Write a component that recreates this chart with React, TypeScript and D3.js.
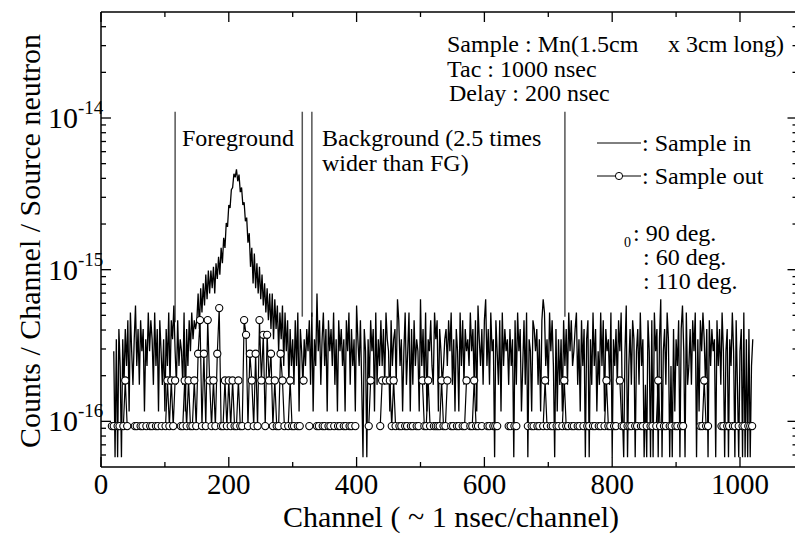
import React from "react";
import * as d3 from "d3";

// ---- axis / scale settings ----
const X_DOMAIN: [number, number] = [0, 1090];
const Y_DOMAIN: [number, number] = [5e-17, 5e-14];
const X_MAJOR = [0, 200, 400, 600, 800, 1000];
const X_MINOR = [100, 300, 500, 700, 900];
const Y_DECADES = [-16, -15, -14];

// one count in each spectrum (per source neutron)
const SAMPLE_IN_UNIT = 0.58e-16;
const SAMPLE_OUT_UNIT = 0.93e-16;
const SAMPLE_IN_STEP = 2; // channels between plotted points
const SAMPLE_OUT_STEP = 3;

// ---- Sample in : counts (base-36 digits), 10 points per chunk ----
const sampleInLowStart = 20;
const sampleInLow = ["5161741637", "4829536a47", "3857264958", "6394728536", "2749386a53", "8465392748", "59687"];
const sampleInPeakStart = 150;
const sampleInPeak = [
  8, 12, 7, 13, 9, 14, 10, 16, 11, 17,
  12, 17, 13, 18, 12, 19, 15, 21, 16, 24,
  19, 28, 24, 35, 33, 46, 44, 58, 60, 74,
  70, 79, 66, 73, 56, 60, 46, 48, 36, 38,
  26, 30, 18, 24, 14, 22, 13, 19, 12, 18,
  11, 16, 10, 14, 9, 13, 8, 12, 7, 12,
  6, 11, 7, 10, 5, 9, 6, 10, 4, 9,
  5, 8, 3, 7, 4,
];
const sampleInHighStart = 300;
const sampleInHigh = [
  "6384927536", "475839264c", "5836947285", "7493628574", "6285937462",
  "a648317516", "3857293648", "4739652846", "73b8462593", "5927384652",
  "b473926584", "3968275346", "7485936275", "2948375649", "57382a6473",
  "8b47395618", "5382947563", "7461839572", "4839165287", "573628b946",
  "3958417263", "6284739584", "5793628471", "6816394725", "3948275639",
  "1647385921", "5a14738615", "7394613185", "18195716b1", "5739614172",
  "64817a5193", "4738591628", "5963718475", "6184739515", "7164951831",
  "5719161714", "6",
];

// ---- Sample out : counts (0 = no point), 10 points per chunk ----
const sampleOutStart = 17;
const sampleOut = [
  "1101101210", "0011011010", "1101101012", "1212001121", "2112135131",
  "5212136112", "1212112115", "4132131524", "1423121132", "1012110110",
  "2001000110", "1101101011", "0110110100", "0000120000", "1202021210",
  "1101101101", "1021121011", "1121120110", "1101120112", "1101001101",
  "1100000110", "1100000101", "1011012101", "1011012110", "1101101011",
  "0110110121", "1011021101", "1101101101", "0110121011", "0110110110",
  "0000000112", "1100000011", "0110110101", "10111",
];

// ---- annotation markers (channel positions of the window lines) ----
const markerChannels = [116, 315, 330, 726];
const markerTop = 1.1e-14;
const markerBottoms = [4.5e-16, 4.9e-16, 4.9e-16, 4.9e-16];

type Pt = [number, number];

function parseChunks(chunks: string[], start: number, step: number): Pt[] {
  const out: Pt[] = [];
  let i = 0;
  chunks.forEach((s) => {
    for (let j = 0; j < s.length; j++) {
      out.push([start + i * step, parseInt(s[j], 36)]);
      i++;
    }
  });
  return out;
}

const FONT = "'Liberation Serif', 'Times New Roman', serif";

export default function App() {
  const W = 795;
  const H = 539;
  const left = 101, right = 797.5, top = 12, bottom = 467;
  const x = d3.scaleLinear().domain(X_DOMAIN).range([left, right]);
  const y = d3.scaleLog().domain(Y_DOMAIN).range([bottom, top]);

  const sIn: Pt[] = [
    ...parseChunks(sampleInLow, sampleInLowStart, SAMPLE_IN_STEP),
    ...sampleInPeak.map((v, i) => [sampleInPeakStart + i * SAMPLE_IN_STEP, v] as Pt),
    ...parseChunks(sampleInHigh, sampleInHighStart, SAMPLE_IN_STEP),
  ].sort((a, b) => a[0] - b[0]);
  const sOut: Pt[] = parseChunks(sampleOut, sampleOutStart, SAMPLE_OUT_STEP);

  const inLine = d3
    .line<Pt>()
    .defined((d) => d[1] > 0)
    .x((d) => x(d[0]))
    .y((d) => y(d[1] * SAMPLE_IN_UNIT));
  const outLine = d3
    .line<Pt>()
    .defined((d) => d[1] > 0)
    .x((d) => x(d[0]))
    .y((d) => y(d[1] * SAMPLE_OUT_UNIT));

  const yMinor: number[] = [];
  for (let e = -17; e <= -14; e++) {
    for (let k = 2; k <= 9; k++) {
      const v = k * Math.pow(10, e);
      if (v > Y_DOMAIN[0] * 1.0001 && v < Y_DOMAIN[1] * 0.9999) yMinor.push(v);
    }
  }

  const tickW = 1.3;
  const txt = { fontFamily: FONT, fill: "#000" } as const;

  return (
    <svg
      width={W}
      height={H}
      style={{ position: "absolute", left: 0, top: 0, background: "#fff" }}
    >
      <defs>
        <clipPath id="plot">
          <rect x={left} y={top} width={right - left} height={bottom - top} />
        </clipPath>
      </defs>
      <rect x={0} y={0} width={W} height={H} fill="#fff" />

      {/* annotation lines */}
      {markerChannels.map((c, i) => (
        <line
          key={"m" + i}
          x1={x(c)}
          x2={x(c)}
          y1={y(markerTop)}
          y2={y(markerBottoms[i])}
          stroke="#555"
          strokeWidth={1.5}
        />
      ))}

      <g clipPath="url(#plot)">
        <path
          d={inLine(sIn) || ""}
          fill="none"
          stroke="#000"
          strokeWidth={1.3}
          strokeLinejoin="miter"
          strokeMiterlimit={2}
        />
        <path d={outLine(sOut) || ""} fill="none" stroke="#000" strokeWidth={1.2} />
        {sOut
          .filter((d) => d[1] > 0)
          .map((d, i) => (
            <circle
              key={"c" + i}
              cx={x(d[0])}
              cy={y(d[1] * SAMPLE_OUT_UNIT)}
              r={3.6}
              fill="#fff"
              stroke="#000"
              strokeWidth={1.1}
            />
          ))}
      </g>

      {/* frame */}
      <g stroke="#000" strokeWidth={1.5} fill="none">
        <line x1={left} x2={left} y1={top} y2={bottom} />
        <line x1={left} x2={right} y1={bottom} y2={bottom} />
        <line x1={left} x2={right} y1={top} y2={top} />
        <line x1={right} x2={right} y1={top} y2={bottom} />
      </g>

      {/* ticks */}
      <g stroke="#000" strokeWidth={tickW}>
        {X_MAJOR.map((t) => (
          <g key={"xM" + t}>
            <line x1={x(t)} x2={x(t)} y1={bottom} y2={bottom - 10} />
            <line x1={x(t)} x2={x(t)} y1={top} y2={top + 10} />
          </g>
        ))}
        {X_MINOR.map((t) => (
          <g key={"xm" + t}>
            <line x1={x(t)} x2={x(t)} y1={bottom} y2={bottom - 5} />
            <line x1={x(t)} x2={x(t)} y1={top} y2={top + 5} />
          </g>
        ))}
        {Y_DECADES.map((e) => (
          <g key={"yM" + e}>
            <line x1={left} x2={left + 10} y1={y(Math.pow(10, e))} y2={y(Math.pow(10, e))} />
            <line x1={right} x2={right - 10} y1={y(Math.pow(10, e))} y2={y(Math.pow(10, e))} />
          </g>
        ))}
        {yMinor.map((v, i) => (
          <g key={"ym" + i}>
            <line x1={left} x2={left + 5} y1={y(v)} y2={y(v)} />
            <line x1={right} x2={right - 5} y1={y(v)} y2={y(v)} />
          </g>
        ))}
      </g>

      {/* x tick labels */}
      {X_MAJOR.map((t) => (
        <text key={"xl" + t} x={x(t)} y={494} textAnchor="middle" fontSize={29} {...txt}>
          {t}
        </text>
      ))}

      {/* y tick labels */}
      {Y_DECADES.map((e) => (
        <text key={"yl" + e} x={48} y={y(Math.pow(10, e)) + 10} fontSize={30} {...txt}>
          10
          <tspan dy={-14} fontSize={19}>{String(e)}</tspan>
        </text>
      ))}

      {/* axis titles */}
      <text x={451} y={527} textAnchor="middle" fontSize={30} {...txt}>
        Channel ( ~ 1 nsec/channel)
      </text>
      <text
        transform="translate(40,241) rotate(-90)"
        textAnchor="middle"
        fontSize={30}
        {...txt}
      >
        Counts / Channel / Source neutron
      </text>

      {/* annotations */}
      <text x={182} y={146} fontSize={24} {...txt}>Foreground</text>
      <text x={322} y={146} fontSize={24} {...txt}>Background (2.5 times</text>
      <text x={322} y={171} fontSize={24} {...txt}>wider than FG)</text>

      <text x={447} y={52} fontSize={24} {...txt}>Sample : Mn(1.5cm</text>
      <text x={668} y={52} fontSize={24} {...txt}>x 3cm long)</text>
      <text x={447} y={77} fontSize={24} {...txt}>Tac : 1000 nsec</text>
      <text x={449} y={101} fontSize={24} {...txt}>Delay : 200 nsec</text>

      {/* legend */}
      <line x1={597} x2={641} y1={143} y2={143} stroke="#000" strokeWidth={1} />
      <text x={642} y={151} fontSize={24} {...txt}>: Sample in</text>
      <line x1={597} x2={641} y1={176} y2={176} stroke="#000" strokeWidth={1} />
      <circle cx={619} cy={176} r={3.6} fill="#fff" stroke="#000" strokeWidth={1} />
      <text x={642} y={184} fontSize={24} {...txt}>: Sample out</text>

      <text x={624} y={247} fontSize={14} {...txt}>0</text>
      <text x={633} y={241} fontSize={24} {...txt}>: 90 deg.</text>
      <text x={643} y={265} fontSize={24} {...txt}>: 60 deg.</text>
      <text x={643} y={289} fontSize={24} {...txt}>: 110 deg.</text>
    </svg>
  );
}
